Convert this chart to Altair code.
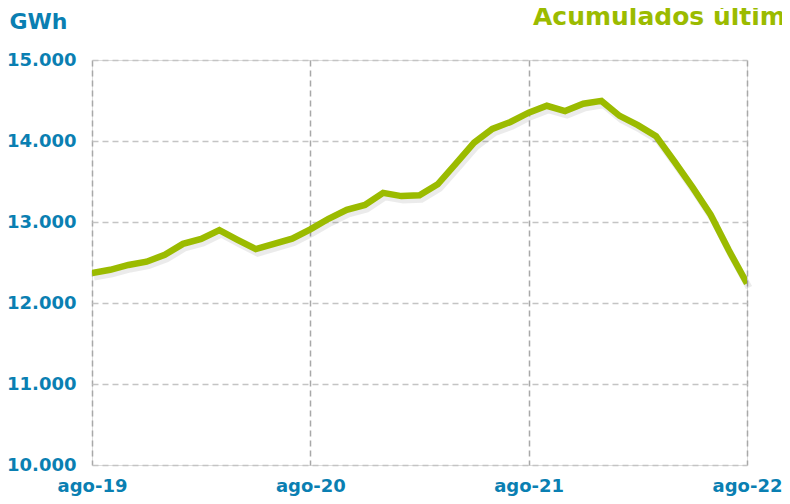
import altair as alt
import pandas as pd

months = [
    "ago-19", "sep-19", "oct-19", "nov-19", "dic-19",
    "ene-20", "feb-20", "mar-20", "abr-20", "may-20", "jun-20", "jul-20",
    "ago-20", "sep-20", "oct-20", "nov-20", "dic-20",
    "ene-21", "feb-21", "mar-21", "abr-21", "may-21", "jun-21", "jul-21",
    "ago-21", "sep-21", "oct-21", "nov-21", "dic-21",
    "ene-22", "feb-22", "mar-22", "abr-22", "may-22", "jun-22", "jul-22",
    "ago-22",
]
gwh = [
    12370, 12410, 12470, 12510, 12595,
    12730, 12790, 12900, 12780, 12665, 12730, 12795,
    12910, 13040, 13150, 13210, 13360,
    13320, 13330, 13465, 13720, 13980, 14150, 14235,
    14350, 14435, 14370, 14460, 14495,
    14310, 14195, 14060, 13750, 13430, 13090, 12650,
    12240,
]
tick_labels = ["ago-19", "ago-20", "ago-21", "ago-22"]
y_ticks = [10000, 11000, 12000, 13000, 14000, 15000]
title_text = "Acumulados últimos 12 meses"
unit_text = "GWh"

df = pd.DataFrame({"mes": months, "idx": list(range(len(months))), "gwh": gwh})
tick_idx = [months.index(t) for t in tick_labels]

BLUE = "#0a7fb2"
GREEN = "#9bbb00"
FONT = "DejaVu Sans"

label_map = "{" + ",".join(f"'{i}':'{t}'" for i, t in zip(tick_idx, tick_labels)) + "}"

x_enc = alt.X(
    "idx:Q",
    scale=alt.Scale(domain=[0, len(months) - 1], nice=False, zero=False),
    axis=alt.Axis(
        values=tick_idx,
        labelExpr=f"{label_map}[''+datum.value]",
        title=None,
        ticks=False,
        domain=False,
        labelFlush=False,
        labelFont=FONT,
        labelFontSize=18,
        labelFontWeight="bold",
        labelColor=BLUE,
        labelBaseline="alphabetic",
        labelPadding=26,
        grid=True,
        gridColor="#a8a8a8",
        gridDash=[6, 4],
        gridWidth=1.5,
    ),
)
y_enc = alt.Y(
    "gwh:Q",
    scale=alt.Scale(domain=[10000, 15000], nice=False, zero=False),
    axis=alt.Axis(
        values=y_ticks,
        labelExpr="replace(format(datum.value, ',.0f'), ',', '.')",
        title=unit_text,
        titleAngle=0,
        titleAlign="left",
        titleBaseline="alphabetic",
        titleX=-83,
        titleY=-32,
        titleFont=FONT,
        titleFontSize=22,
        titleFontWeight="bold",
        titleColor=BLUE,
        ticks=False,
        domain=False,
        labelFlush=False,
        labelFont=FONT,
        labelFontSize=18,
        labelFontWeight="bold",
        labelColor=BLUE,
        labelPadding=16,
        grid=True,
        gridColor="#c4c4c4",
        gridDash=[6, 4],
        gridWidth=1.3,
    ),
)

base = alt.Chart(df)
shadow = base.mark_line(color="#000000", opacity=0.08, strokeWidth=7, yOffset=4, xOffset=2).encode(x=x_enc, y=y_enc)
line = base.mark_line(color=GREEN, strokeWidth=6.5, clip=True).encode(x=x_enc, y=y_enc)

title = alt.Chart(pd.DataFrame({"t": [title_text]})).mark_text(
    font=FONT, fontSize=25, fontWeight="bold", color=GREEN, align="left", baseline="alphabetic"
).encode(text="t:N", x=alt.value(441), y=alt.value(-35))

chart = (
    alt.layer(shadow, line, title)
    .properties(
        width=655,
        height=405,
        autosize=alt.AutoSizeParams(type="none"),
        padding={"left": 84, "top": 52, "right": 35, "bottom": 31},
    )
    .configure_view(stroke="#a0a0a0", strokeWidth=1.5)
    .configure(background="white")
)

chart.save("out.html", embed_options={"renderer": "svg", "actions": False})
